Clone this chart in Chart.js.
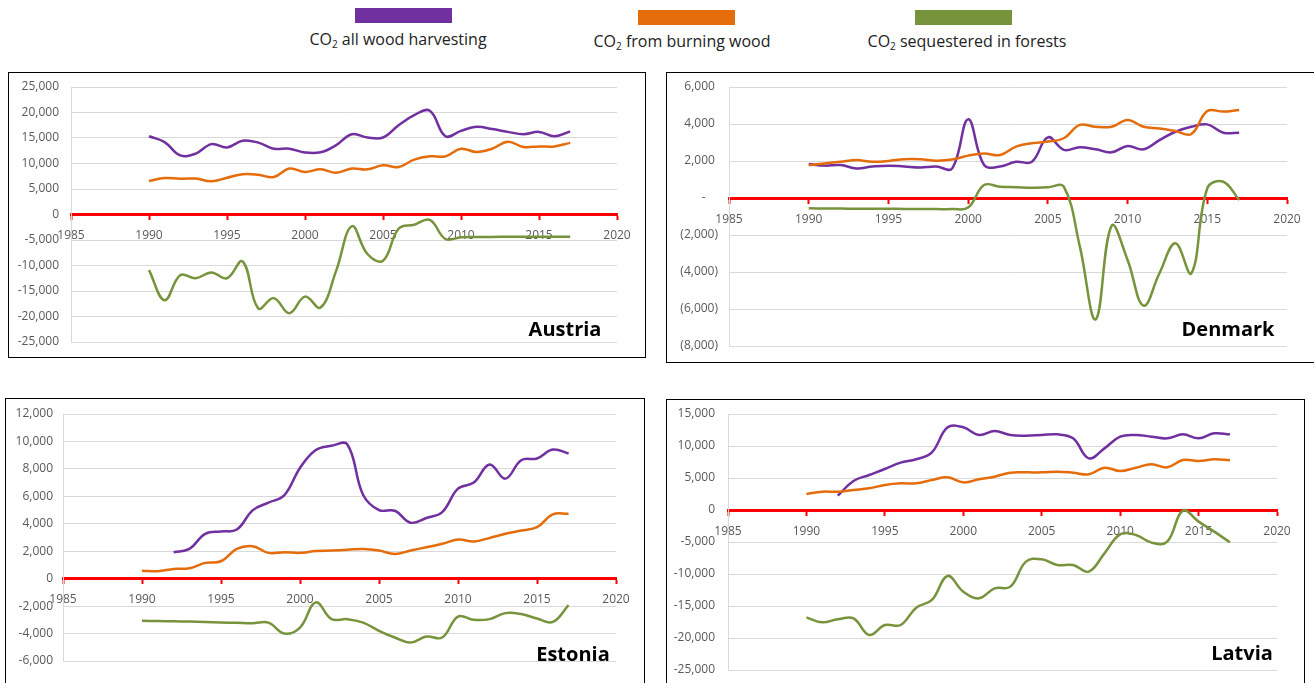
<!DOCTYPE html>
<html>
<head>
<meta charset="utf-8">
<script src="https://cdn.jsdelivr.net/npm/chart.js@4.4.1/dist/chart.umd.min.js"></script>
<style>
  body { margin: 0; background: #fff; width: 1314px; height: 683px; overflow: hidden; position: relative; font-family: "Open Sans", sans-serif; }
  .swatch { position: absolute; width: 97px; height: 15px; }
  .legtext { position: absolute; font-size: 16px; color: #222; transform: translateX(-50%); white-space: nowrap; }
  .legtext sub { font-size: 10px; vertical-align: -3px; }
  .box { position: absolute; border: 1px solid #000; box-sizing: border-box; }
  canvas { position: absolute; }
  .country { position: absolute; font-size: 20px; font-weight: bold; color: #000; transform: translate(-50%, -50%); }
</style>
</head>
<body>

<!-- legend -->
<div class="swatch" style="left:355px;top:8px;background:#7030a0"></div>
<div class="swatch" style="left:638px;top:10px;background:#e46c0a"></div>
<div class="swatch" style="left:915px;top:10px;background:#77933c"></div>
<div class="legtext" style="left:398px;top:28px">CO<sub>2</sub> all wood harvesting</div>
<div class="legtext" style="left:682px;top:30px">CO<sub>2</sub> from burning wood</div>
<div class="legtext" style="left:967px;top:30px">CO<sub>2</sub> sequestered in forests</div>

<!-- panels -->
<div class="box" style="left:8px;top:72px;width:638px;height:286px"></div>
<div class="box" style="left:666px;top:72px;width:660px;height:291px"></div>
<div class="box" style="left:5px;top:398px;width:640px;height:300px"></div>
<div class="box" style="left:666px;top:399px;width:639px;height:300px"></div>

<canvas id="austria" width="637" height="285" style="left:8px;top:72px"></canvas>
<canvas id="denmark" width="648" height="290" style="left:666px;top:72px"></canvas>
<canvas id="estonia" width="639" height="285" style="left:5px;top:398px"></canvas>
<canvas id="latvia" width="638" height="284" style="left:666px;top:399px"></canvas>

<div class="country" style="left:565px;top:328px">Austria</div>
<div class="country" style="left:1228px;top:328px">Denmark</div>
<div class="country" style="left:573px;top:653px">Estonia</div>
<div class="country" style="left:1242px;top:652px">Latvia</div>

<script>
// years on the x axis
const years = [1990, 1991, 1992, 1993, 1994, 1995, 1996, 1997, 1998, 1999,
               2000, 2001, 2002, 2003, 2004, 2005, 2006, 2007, 2008, 2009,
               2010, 2011, 2012, 2013, 2014, 2015, 2016, 2017];
const xTicks = [1985, 1990, 1995, 2000, 2005, 2010, 2015, 2020];

// Austria
const austriaHarvest = [15350, 14200, 11600, 11950, 13800, 13150, 14450, 14100, 12900, 12900,
                        12150, 12200, 13600, 15750, 15100, 15100, 17500, 19500, 20350, 15350,
                        16400, 17200, 16750, 16200, 15750, 16200, 15350, 16300];
const austriaBurning = [6550, 7150, 7000, 7050, 6500, 7200, 7900, 7800, 7350, 9000,
                        8350, 8850, 8200, 9000, 8850, 9650, 9300, 10750, 11400, 11400,
                        12900, 12250, 12900, 14250, 13250, 13350, 13350, 14050];
const austriaForest = [-10900, -16800, -11900, -12500, -11350, -12500, -9200, -18400, -16400, -19350,
                       -16100, -18250, -11000, -2300, -7750, -9050, -2800, -2000, -1050, -4800,
                       -4450, -4400, -4400, -4350, -4350, -4350, -4350, -4350];
const austriaTicks = [-25000, -20000, -15000, -10000, -5000, 0, 5000, 10000, 15000, 20000, 25000];

// Denmark
const denmarkHarvest = [1840, 1750, 1780, 1600, 1700, 1750, 1700, 1650, 1700, 1600,
                        4250, 1780, 1700, 1960, 1960, 3280, 2600, 2740, 2630, 2470,
                        2810, 2630, 3130, 3580, 3850, 3980, 3530, 3530];
const denmarkBurning = [1770, 1870, 1960, 2050, 1960, 2000, 2100, 2100, 2020, 2080,
                        2290, 2410, 2320, 2780, 2960, 3050, 3230, 3950, 3850, 3850,
                        4220, 3850, 3760, 3620, 3460, 4700, 4670, 4760];
const denmarkForest = [-560, -570, -570, -580, -580, -580, -590, -590, -600, -600,
                       -520, 700, 610, 580, 550, 580, 610, -2600, -6560, -1500,
                       -3350, -5820, -4070, -2450, -4070, 520, 880, -110];
const denmarkTicks = [-8000, -6000, -4000, -2000, 0, 2000, 4000, 6000];

// Estonia
const estoniaHarvest = [null, null, 1930, 2170, 3270, 3440, 3580, 4980, 5540, 6070,
                        8070, 9370, 9680, 9780, 6100, 5000, 4950, 4080, 4420, 4850,
                        6560, 7000, 8320, 7290, 8630, 8760, 9410, 9120];
const estoniaBurning = [585, 540, 710, 760, 1150, 1270, 2170, 2370, 1880, 1930,
                        1880, 2020, 2050, 2100, 2170, 2050, 1800, 2050, 2290, 2540,
                        2850, 2710, 2970, 3270, 3510, 3750, 4680, 4730];
const estoniaForest = [-3070, -3090, -3110, -3130, -3160, -3190, -3220, -3250, -3200, -4000,
                       -3560, -1730, -2950, -2950, -3200, -3800, -4290, -4660, -4220, -4290,
                       -2760, -3000, -2950, -2510, -2580, -2900, -3150, -1930];
const estoniaTicks = [-6000, -4000, -2000, 0, 2000, 4000, 6000, 8000, 10000, 12000];

// Latvia
const latviaHarvest = [null, null, 2240, 4530, 5470, 6410, 7400, 7920, 9010, 12920,
                       12920, 11720, 12340, 11720, 11620, 11720, 11820, 11200, 8070, 9630,
                       11460, 11720, 11460, 11200, 11820, 11200, 11980, 11820];
const latviaBurning = [2500, 2860, 2860, 3130, 3390, 3910, 4170, 4170, 4690, 5100,
                       4320, 4790, 5210, 5830, 5880, 5880, 5990, 5830, 5570, 6610,
                       6090, 6610, 7140, 6670, 7810, 7660, 7920, 7760];
const latviaForest = [-16770, -17550, -17080, -16930, -19530, -17970, -17970, -15260, -14060, -10310,
                      -12760, -13800, -12240, -11980, -8070, -7700, -8590, -8590, -9630, -6770,
                      -3800, -3910, -5100, -4950, -100, -1820, -3380, -5050];
const latviaTicks = [-25000, -20000, -15000, -10000, -5000, 0, 5000, 10000, 15000];

const PURPLE = '#7030a0', ORANGE = '#e46c0a', GREEN = '#77933c';

Chart.defaults.font.family = '"Open Sans", sans-serif';
Chart.defaults.font.size = 12;
Chart.defaults.color = '#595959';

function toPoints(vals) {
  return years.map((yr, i) => ({ x: yr, y: vals[i] }));
}

function line(label, vals, color, order) {
  return {
    label: label,
    data: toPoints(vals),
    borderColor: color,
    backgroundColor: color,
    borderWidth: 2.5,
    pointRadius: 0,
    tension: 0.4,
    fill: false,
    order: order
  };
}

const plain = v => v.toLocaleString('en-US');
// accounting style used on the Danish chart
const accounting = v => v === 0 ? '-    ' : v < 0 ? '(' + (-v).toLocaleString('en-US') + ')' : v.toLocaleString('en-US') + ' ';

function drawPanel(id, harvest, burning, forest, yTicks, fmt, axisWidth, labelPad, pad) {
  new Chart(document.getElementById(id), {
    type: 'line',
    data: {
      datasets: [
        line('CO2 all wood harvesting', harvest, PURPLE, 3),
        line('CO2 from burning wood', burning, ORANGE, 2),
        line('CO2 sequestered in forests', forest, GREEN, 1)
      ]
    },
    options: {
      responsive: false,
      animation: false,
      events: [],
      layout: { padding: pad },
      plugins: { legend: { display: false }, tooltip: { enabled: false } },
      scales: {
        x: {
          type: 'linear',
          position: { y: 0 },   // red axis crosses at zero
          min: xTicks[0],
          max: xTicks[xTicks.length - 1],
          afterBuildTicks: s => { s.ticks = xTicks.map(v => ({ value: v })); },
          afterFit: s => { s.height = 0; },
          grid: { drawOnChartArea: false, drawTicks: true, tickLength: 4, tickColor: '#ff0000', tickWidth: 2 },
          border: { color: '#ff0000', width: 3 },
          ticks: { padding: 10, maxRotation: 0, autoSkip: false, callback: v => String(v) }
        },
        y: {
          min: yTicks[0],
          max: yTicks[yTicks.length - 1],
          afterBuildTicks: s => { s.ticks = yTicks.map(v => ({ value: v })); },
          afterFit: s => { s.width = axisWidth; s.paddingTop = 0; s.paddingBottom = 0; },
          grid: { color: '#d9d9d9', lineWidth: 1, drawTicks: false },
          border: { color: '#d9d9d9', width: 1 },
          ticks: { padding: labelPad, callback: fmt }
        }
      }
    }
  });
}

drawPanel('austria', austriaHarvest, austriaBurning, austriaForest, austriaTicks, plain, 63, 12,
          { left: 0, right: 28, top: 15, bottom: 15 });
drawPanel('denmark', denmarkHarvest, denmarkBurning, denmarkForest, denmarkTicks, accounting, 63, 11,
          { left: 0, right: 27, top: 15, bottom: 16 });
drawPanel('estonia', estoniaHarvest, estoniaBurning, estoniaForest, estoniaTicks, plain, 58, 10,
          { left: 0, right: 28, top: 16, bottom: 22 });
drawPanel('latvia', latviaHarvest, latviaBurning, latviaForest, latviaTicks, plain, 62, 13,
          { left: 0, right: 27, top: 15, bottom: 13 });
</script>
</body>
</html>
